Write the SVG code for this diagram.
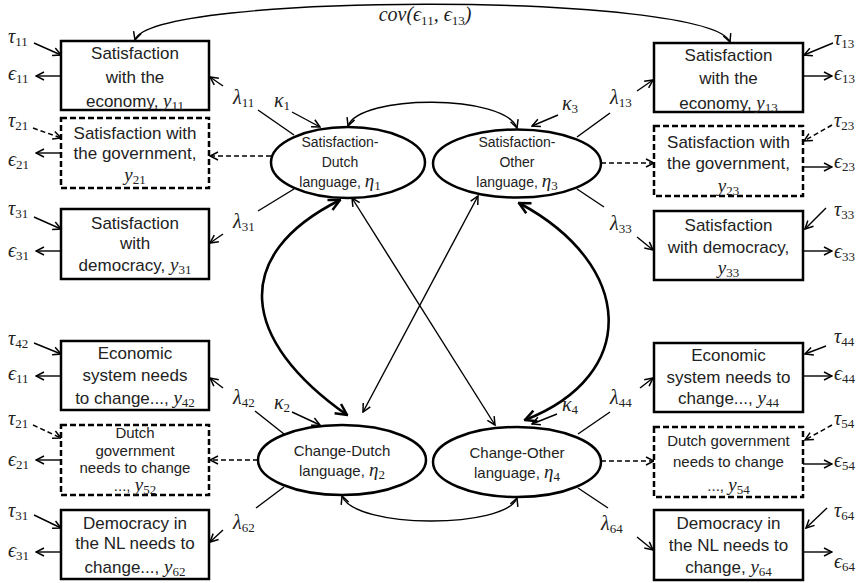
<svg xmlns="http://www.w3.org/2000/svg" width="864" height="583" viewBox="0 0 864 583">
<style>
.bx{fill:#fff;stroke:#000;stroke-width:2.5}
.dbx{fill:#fff;stroke:#000;stroke-width:2.5;stroke-dasharray:6 3}
.el{fill:#fff;stroke:#000;stroke-width:2.5}
.t{font-family:"Liberation Sans",Arial,sans-serif;font-size:17px;fill:#222;text-anchor:middle}
.ts{font-family:"Liberation Sans",Arial,sans-serif;font-size:15px;fill:#222;text-anchor:middle}
.te{font-family:"Liberation Sans",Arial,sans-serif;font-size:14px;fill:#222;text-anchor:middle}
.tc{font-family:"Liberation Sans",Arial,sans-serif;font-size:15px;fill:#222;text-anchor:middle}
.m{font-family:"Liberation Serif","DejaVu Serif",serif;font-style:italic;font-size:20px;fill:#222}
.mi{font-family:"Liberation Serif","DejaVu Serif",serif;font-style:italic;font-size:19px}
.sb{font-family:"Liberation Serif","DejaVu Serif",serif;font-style:normal;font-size:13px}
.ln{fill:none;stroke:#000;stroke-width:1.4}
.ar{fill:none;stroke:#000;stroke-width:1.4;marker-end:url(#a)}
.da{fill:none;stroke:#000;stroke-width:1.5;stroke-dasharray:5 3;marker-end:url(#a)}
.bi{fill:none;stroke:#000;stroke-width:1.4;marker-start:url(#a);marker-end:url(#a)}
.tk{fill:none;stroke:#000;stroke-width:2.6;marker-start:url(#b);marker-end:url(#b)}
</style>
<defs>
<marker id="a" viewBox="0 0 10 10" refX="9" refY="5" markerWidth="10" markerHeight="10" markerUnits="userSpaceOnUse" orient="auto-start-reverse"><path d="M1,1 L9,5 L1,9" fill="none" stroke="#000" stroke-width="1.5"/></marker>
<marker id="b" viewBox="0 0 10 10" refX="9" refY="5" markerWidth="14" markerHeight="14" markerUnits="userSpaceOnUse" orient="auto-start-reverse"><path d="M1,1 L9,5 L1,9" fill="none" stroke="#000" stroke-width="1.8"/></marker>
</defs>
<rect width="864" height="583" fill="#fff"/>

<g id="connectors">
<path class="bi" d="M135,40 C150,-8 710,-8 730,42"/>
<path class="bi" d="M348,126 C360,94 505,94 517,128"/>
<path class="bi" d="M342,496 C355,529 505,529 517,498"/>
<path class="tk" d="M340,200 C230,255 240,340 347,415"/>
<path class="tk" d="M519,203 C635,265 640,375 525,420"/>
<path class="bi" d="M352,198 L495,425"/>
<path class="bi" d="M478,196 L363,412"/>
<path class="ar" d="M34,43 L61,55"/>
<path class="da" d="M33,128 L61,138"/>
<path class="ar" d="M34,217 L61,229"/>
<path class="ar" d="M34,343 L61,354"/>
<path class="da" d="M33,425 L61,438"/>
<path class="ar" d="M34,515 L61,528"/>
<path class="ar" d="M61,76 L36,76"/>
<path class="ar" d="M61,153 L36,153"/>
<path class="ar" d="M61,251 L36,251"/>
<path class="ar" d="M61,376 L36,376"/>
<path class="ar" d="M61,460 L36,460"/>
<path class="ar" d="M61,552 L36,552"/>
<path class="ln" d="M294,135 L258,110"/>
<path class="ar" d="M223,86 L210,77"/>
<path class="ln" d="M294,189 L258,211"/>
<path class="ar" d="M223,234 L210,243"/>
<path class="ln" d="M284,434 L255,411"/>
<path class="ar" d="M223,388 L210,378"/>
<path class="ln" d="M284,487 L256,508"/>
<path class="ar" d="M223,530 L210,542"/>
<path class="da" d="M271,156 L210,156"/>
<path class="da" d="M258,460 L210,460"/>
<path class="ar" d="M292,112 L320,127"/>
<path class="ar" d="M292,412 L320,425"/>
<path class="ar" d="M558,115 L532,126"/>
<path class="ar" d="M557,414 L532,424"/>
<path class="ln" d="M577,137 L610,113"/>
<path class="ar" d="M637,91 L653,80"/>
<path class="ln" d="M577,189 L604,207"/>
<path class="ar" d="M637,237 L653,250"/>
<path class="ln" d="M578,434 L610,412"/>
<path class="ar" d="M640,388 L653,378"/>
<path class="ln" d="M578,488 L608,508"/>
<path class="ar" d="M637,537 L653,550"/>
<path class="da" d="M601,163 L654,163"/>
<path class="da" d="M601,461 L654,461"/>
<path class="ar" d="M833,43 L804,55"/>
<path class="ar" d="M803,76 L832,76"/>
<path class="da" d="M832,125 L804,141"/>
<path class="ar" d="M803,167 L832,167"/>
<path class="ar" d="M826,208 L805,229"/>
<path class="ar" d="M803,251 L832,251"/>
<path class="ar" d="M826,346 L805,354"/>
<path class="ar" d="M803,376 L832,376"/>
<path class="da" d="M832,425 L805,440"/>
<path class="ar" d="M803,464 L832,464"/>
<path class="ar" d="M827,508 L806,528"/>
<path class="ar" d="M803,552 L832,552"/>
</g>

<g id="labels">
<text x="425" y="21" class="m" text-anchor="middle">cov(ϵ<tspan class="sb" dy="4">11</tspan><tspan dy="-4">, ϵ</tspan><tspan class="sb" dy="4">13</tspan><tspan dy="-4">)</tspan></text>
<text x="8" y="43" class="m">τ<tspan class="sb" dy="3">11</tspan></text>
<text x="8" y="80" class="m">ϵ<tspan class="sb" dy="3">11</tspan></text>
<text x="8" y="127" class="m">τ<tspan class="sb" dy="3">21</tspan></text>
<text x="8" y="166" class="m">ϵ<tspan class="sb" dy="3">21</tspan></text>
<text x="8" y="215" class="m">τ<tspan class="sb" dy="3">31</tspan></text>
<text x="8" y="257" class="m">ϵ<tspan class="sb" dy="3">31</tspan></text>
<text x="8" y="345" class="m">τ<tspan class="sb" dy="3">42</tspan></text>
<text x="8" y="380" class="m">ϵ<tspan class="sb" dy="3">11</tspan></text>
<text x="8" y="425" class="m">τ<tspan class="sb" dy="3">21</tspan></text>
<text x="8" y="466" class="m">ϵ<tspan class="sb" dy="3">21</tspan></text>
<text x="8" y="517" class="m">τ<tspan class="sb" dy="3">31</tspan></text>
<text x="8" y="557" class="m">ϵ<tspan class="sb" dy="3">31</tspan></text>
<text x="834" y="45" class="m">τ<tspan class="sb" dy="3">13</tspan></text>
<text x="834" y="80" class="m">ϵ<tspan class="sb" dy="3">13</tspan></text>
<text x="834" y="127" class="m">τ<tspan class="sb" dy="3">23</tspan></text>
<text x="834" y="168" class="m">ϵ<tspan class="sb" dy="3">23</tspan></text>
<text x="834" y="216" class="m">τ<tspan class="sb" dy="3">33</tspan></text>
<text x="834" y="258" class="m">ϵ<tspan class="sb" dy="3">33</tspan></text>
<text x="834" y="343" class="m">τ<tspan class="sb" dy="3">44</tspan></text>
<text x="834" y="380" class="m">ϵ<tspan class="sb" dy="3">44</tspan></text>
<text x="834" y="425" class="m">τ<tspan class="sb" dy="3">54</tspan></text>
<text x="834" y="467" class="m">ϵ<tspan class="sb" dy="3">54</tspan></text>
<text x="834" y="517" class="m">τ<tspan class="sb" dy="3">64</tspan></text>
<text x="834" y="568" class="m">ϵ<tspan class="sb" dy="3">64</tspan></text>
<text x="233" y="104" class="m">λ<tspan class="sb" dy="3">11</tspan></text>
<text x="233" y="228" class="m">λ<tspan class="sb" dy="3">31</tspan></text>
<text x="233" y="404" class="m">λ<tspan class="sb" dy="3">42</tspan></text>
<text x="233" y="529" class="m">λ<tspan class="sb" dy="3">62</tspan></text>
<text x="610" y="104" class="m">λ<tspan class="sb" dy="3">13</tspan></text>
<text x="610" y="230" class="m">λ<tspan class="sb" dy="3">33</tspan></text>
<text x="610" y="404" class="m">λ<tspan class="sb" dy="3">44</tspan></text>
<text x="601" y="530" class="m">λ<tspan class="sb" dy="3">64</tspan></text>
<text x="274" y="107" class="m">κ<tspan class="sb" dy="3">1</tspan></text>
<text x="562" y="110" class="m">κ<tspan class="sb" dy="3">3</tspan></text>
<text x="274" y="409" class="m">κ<tspan class="sb" dy="3">2</tspan></text>
<text x="562" y="411" class="m">κ<tspan class="sb" dy="3">4</tspan></text>
</g>

<g id="eta1">
<ellipse class="el" cx="348" cy="162.5" rx="77" ry="35.5"/>
<text class="te" x="340" y="147">Satisfaction-</text>
<text class="te" x="340" y="167">Dutch</text>
<text class="te" x="340" y="187">language, <tspan class="mi">η</tspan><tspan class="sb" dy="3">1</tspan></text>
</g>
<g id="eta3">
<ellipse class="el" cx="517" cy="163.5" rx="84" ry="34"/>
<text class="te" x="517" y="147">Satisfaction-</text>
<text class="te" x="517" y="167">Other</text>
<text class="te" x="517" y="187">language, <tspan class="mi">η</tspan><tspan class="sb" dy="3">3</tspan></text>
</g>
<g id="eta2">
<ellipse class="el" cx="342" cy="460" rx="84" ry="35"/>
<text class="tc" x="342" y="456">Change-Dutch</text>
<text class="tc" x="342" y="476">language, <tspan class="mi">η</tspan><tspan class="sb" dy="3">2</tspan></text>
</g>
<g id="eta4">
<ellipse class="el" cx="517" cy="462" rx="84" ry="35"/>
<text class="tc" x="517" y="458">Change-Other</text>
<text class="tc" x="517" y="478">language, <tspan class="mi">η</tspan><tspan class="sb" dy="3">4</tspan></text>
</g>

<g id="y11">
<rect class="bx" x="61" y="41" width="148" height="69"/>
<text class="t" x="135" y="59">Satisfaction</text>
<text class="t" x="135" y="83">with the</text>
<text class="t" x="135" y="107">economy, <tspan class="mi">y</tspan><tspan class="sb" dy="3">11</tspan></text>
</g>
<g id="y21">
<rect class="dbx" x="61" y="118" width="148" height="70"/>
<text class="t" x="135" y="139">Satisfaction with</text>
<text class="t" x="135" y="159">the government,</text>
<text class="t" x="135" y="181"><tspan class="mi">y</tspan><tspan class="sb" dy="3">21</tspan></text>
</g>
<g id="y31">
<rect class="bx" x="61" y="209" width="148" height="70"/>
<text class="t" x="135" y="229">Satisfaction</text>
<text class="t" x="135" y="249">with</text>
<text class="t" x="135" y="271">democracy, <tspan class="mi">y</tspan><tspan class="sb" dy="3">31</tspan></text>
</g>
<g id="y42">
<rect class="bx" x="61" y="341" width="148" height="69"/>
<text class="t" x="135" y="359">Economic</text>
<text class="t" x="135" y="381">system needs</text>
<text class="t" x="135" y="404">to change..., <tspan class="mi">y</tspan><tspan class="sb" dy="3">42</tspan></text>
</g>
<g id="y52">
<rect class="dbx" x="61" y="425" width="148" height="70"/>
<text class="ts" x="135" y="438">Dutch</text>
<text class="ts" x="135" y="456">government</text>
<text class="ts" x="135" y="473">needs to change</text>
<text class="ts" x="135" y="491">..., <tspan class="mi">y</tspan><tspan class="sb" dy="3">52</tspan></text>
</g>
<g id="y62">
<rect class="bx" x="61" y="510" width="148" height="69"/>
<text class="t" x="135" y="529">Democracy in</text>
<text class="t" x="135" y="549">the NL needs to</text>
<text class="t" x="135" y="573">change..., <tspan class="mi">y</tspan><tspan class="sb" dy="3">62</tspan></text>
</g>

<g id="y13">
<rect class="bx" x="654" y="43" width="149" height="69"/>
<text class="t" x="728.5" y="61">Satisfaction</text>
<text class="t" x="728.5" y="84">with the</text>
<text class="t" x="728.5" y="109">economy, <tspan class="mi">y</tspan><tspan class="sb" dy="3">13</tspan></text>
</g>
<g id="y23">
<rect class="dbx" x="654" y="126" width="149" height="70"/>
<text class="t" x="728.5" y="148">Satisfaction with</text>
<text class="t" x="728.5" y="169">the government,</text>
<text class="t" x="728.5" y="192"><tspan class="mi">y</tspan><tspan class="sb" dy="3">23</tspan></text>
</g>
<g id="y33">
<rect class="bx" x="654" y="211" width="149" height="69"/>
<text class="t" x="728.5" y="231">Satisfaction</text>
<text class="t" x="728.5" y="253">with democracy,</text>
<text class="t" x="728.5" y="274"><tspan class="mi">y</tspan><tspan class="sb" dy="3">33</tspan></text>
</g>
<g id="y44">
<rect class="bx" x="654" y="343" width="149" height="69"/>
<text class="t" x="728.5" y="361">Economic</text>
<text class="t" x="728.5" y="383">system needs to</text>
<text class="t" x="728.5" y="404">change..., <tspan class="mi">y</tspan><tspan class="sb" dy="3">44</tspan></text>
</g>
<g id="y54">
<rect class="dbx" x="654" y="427" width="149" height="70"/>
<text class="ts" x="728.5" y="446">Dutch government</text>
<text class="ts" x="728.5" y="467">needs to change</text>
<text class="ts" x="728.5" y="491">..., <tspan class="mi">y</tspan><tspan class="sb" dy="3">54</tspan></text>
</g>
<g id="y64">
<rect class="bx" x="654" y="510" width="149" height="70"/>
<text class="t" x="728.5" y="529">Democracy in</text>
<text class="t" x="728.5" y="551">the NL needs to</text>
<text class="t" x="728.5" y="573">change, <tspan class="mi">y</tspan><tspan class="sb" dy="3">64</tspan></text>
</g>
</svg>
